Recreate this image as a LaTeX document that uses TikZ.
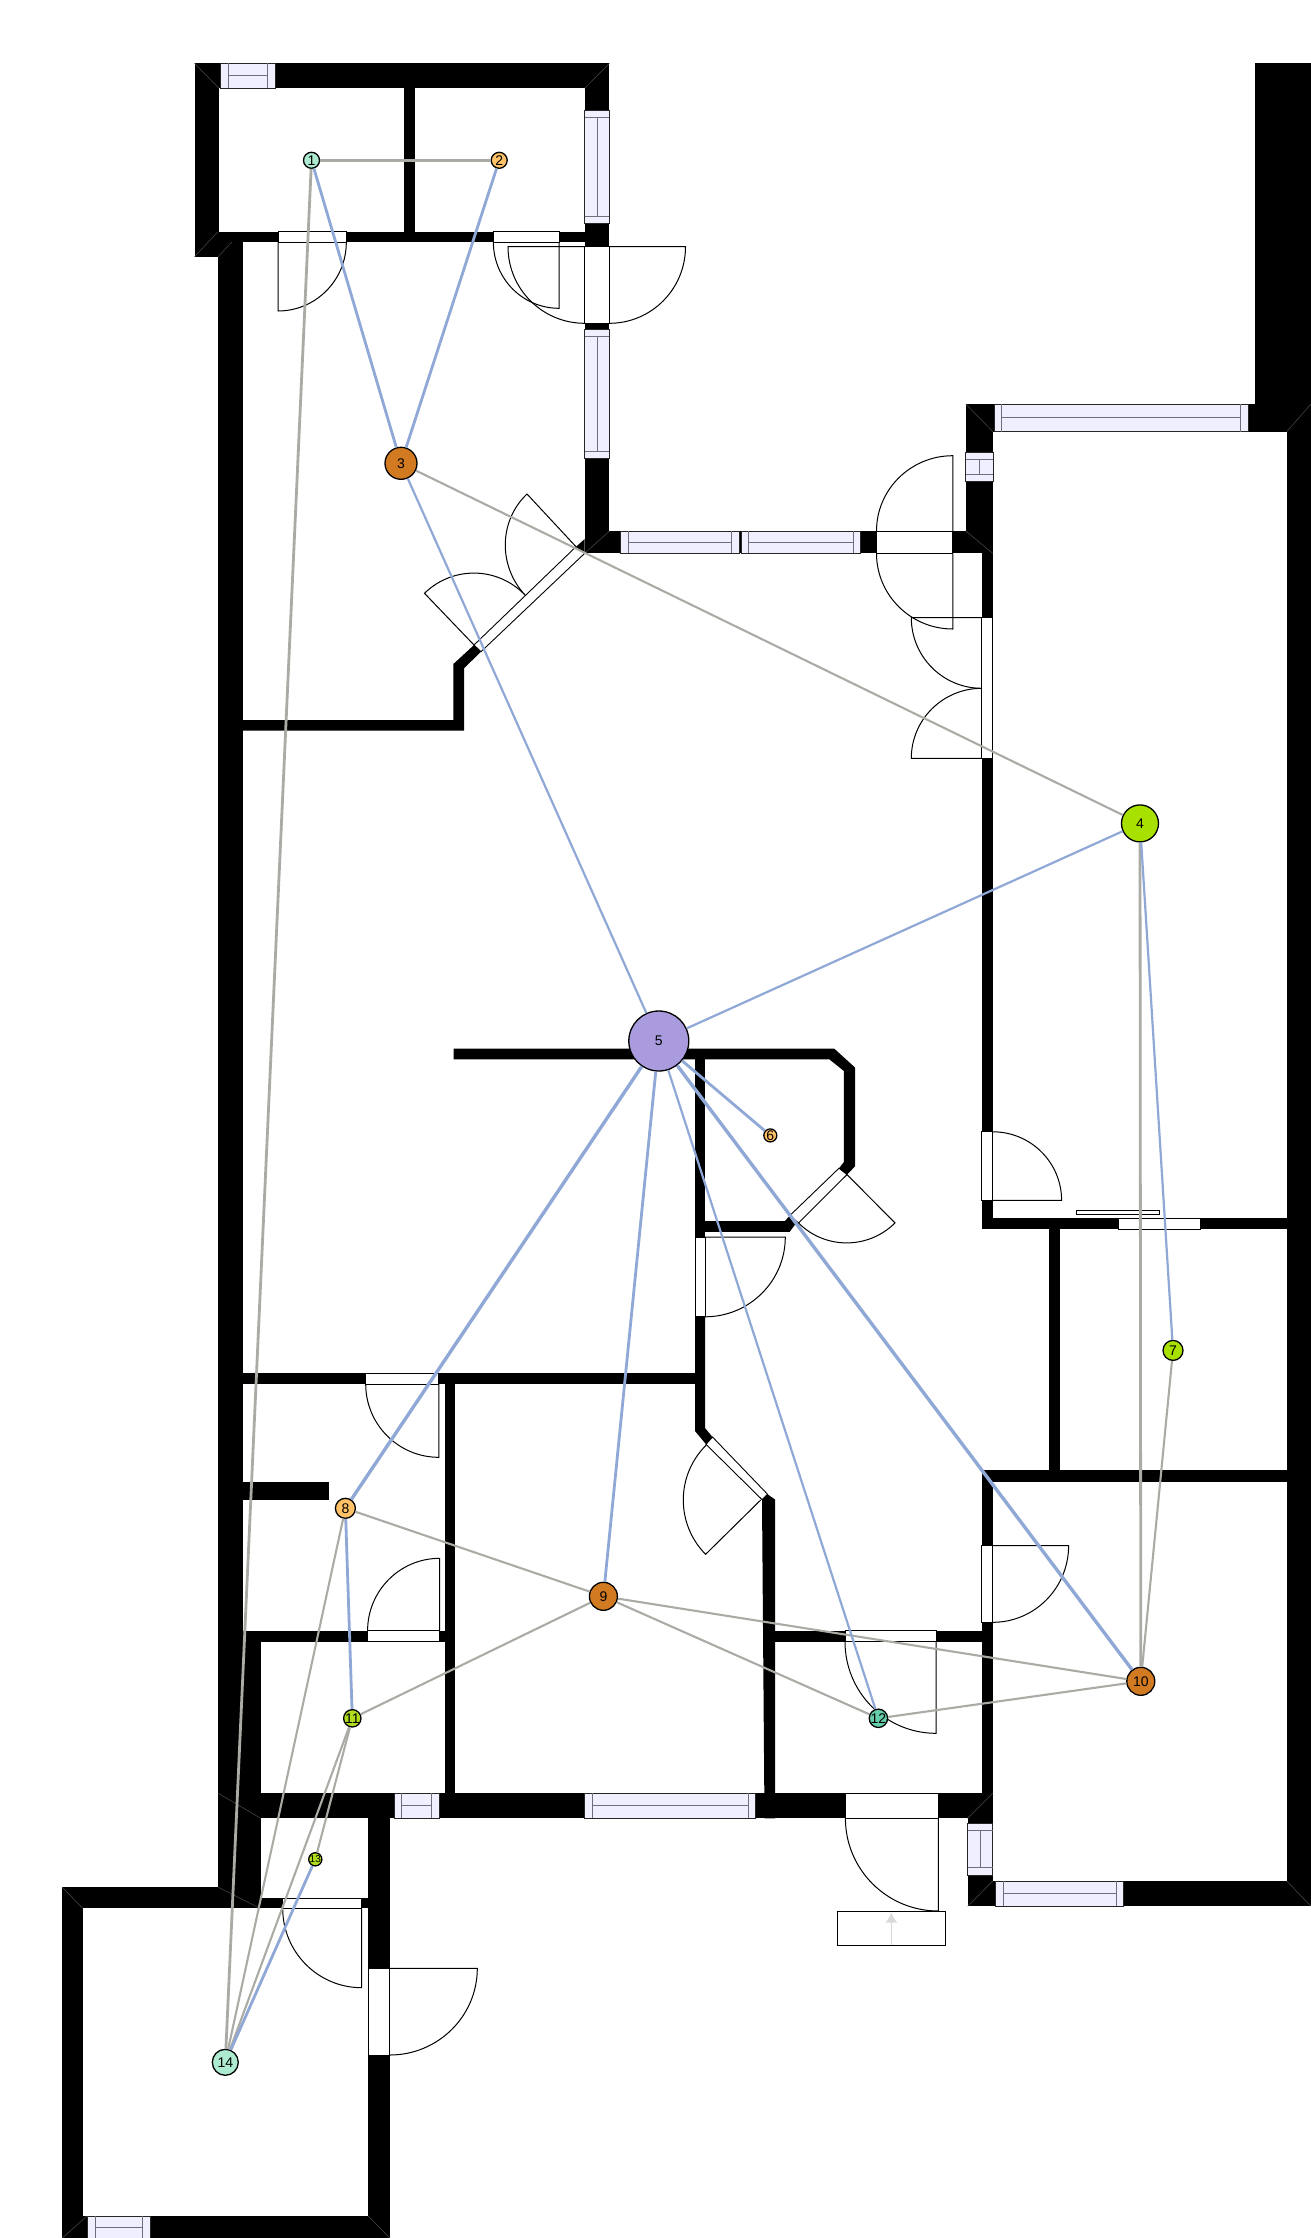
\documentclass[tikz,border=0pt]{standalone}
\usepackage{fontspec}
\setmainfont{Liberation Sans}
\usetikzlibrary{calc,arrows.meta}

\definecolor{winfill}{HTML}{EFEFFD}
\definecolor{winline}{HTML}{6E6E80}
\definecolor{edgegray}{HTML}{ABABA6}
\definecolor{edgeblue}{HTML}{8FA8D6}
\definecolor{mint}{HTML}{ADEBD0}
\definecolor{teal}{HTML}{66CDAA}
\definecolor{apricot}{HTML}{FFC266}
\definecolor{ochre}{HTML}{D17A22}
\definecolor{lime}{HTML}{A8E000}
\definecolor{olive}{HTML}{B0DC1E}
\definecolor{lilac}{HTML}{A99BDD}

\tikzset{
  wall/.style={fill=black},
  miter/.style={draw=black!70, line width=0.5},
  gap/.style={fill=white, draw=black, line width=0.9},
  window/.style={fill=winfill, draw=black!85, line width=0.9},
  sash/.style={draw=winline, line width=1},
  door/.style={draw=black, line width=1},
  sensor/.style={circle, draw=black, line width=1.3, inner sep=0pt,
    font=\fontsize{14}{14}\selectfont},
  link/.style={draw=edgegray, line width=2.1},
  bond/.style={draw=edgeblue, line width=2.2},
}

% window in a horizontal wall: x1, x2, y1, y2
\newcommand{\winh}[4]{
  \draw[window] (#1,#3) rectangle (#2,#4);
  \draw[sash] ({#1+7.5},#3) -- ({#1+7.5},#4);
  \draw[sash] ({#2-7.5},#3) -- ({#2-7.5},#4);
  \draw[sash] ({#1+7.5},{(#3+#4)/2}) -- ({#2-7.5},{(#3+#4)/2});
}
% window in a vertical wall: x1, x2, y1, y2
\newcommand{\winv}[4]{
  \draw[window] (#1,#3) rectangle (#2,#4);
  \draw[sash] (#1,{#3+7.2}) -- (#2,{#3+7.2});
  \draw[sash] (#1,{#4-7.2}) -- (#2,{#4-7.2});
  \draw[sash] ({(#1+#2)/2},{#3+7.2}) -- ({(#1+#2)/2},{#4-7.2});
}
% door leaf and swing: hinge, leaf tip, end of the swing
\newcommand{\swing}[3]{
  \draw[door] (#1) -- (#2)
    .. controls ($(#2)+0.552*(#3)-0.552*(#1)$) and ($(#3)+0.552*(#2)-0.552*(#1)$) .. (#3);
}

\begin{document}
\begin{tikzpicture}[x=1pt, y=-1pt]

  \useasboundingbox (0,0) rectangle (1311,2238);

  % Straight walls
  \foreach \xa/\ya/\xb/\yb in {
    194.5/63.3/609.4/88.3, 194.5/63.3/219/256.7, 219/231.7/584.6/242.3,
    404/63.3/415/242.3, 584.6/63.3/609.4/553.3, 584.6/531/992.7/553.3,
    965.7/404/992.7/553.3, 965.7/404/1311/431.7, 1286.7/404/1311/1906.3,
    1254.7/63/1311/404, 981.6/553/992.7/1229, 981.6/1470.4/992.7/1906,
    981.5/1218.2/1287/1229, 981.5/1470.4/1287/1481.8, 1048.8/1218/1059.8/1481.8,
    218.4/231.7/243.2/1818.3, 243/1373.3/705/1384, 243/1630.7/455/1641.7,
    444.5/1373.3/455.3/1818.3, 243/1482.3/328.6/1500.3, 218.4/1641.7/260.5/1818.3,
    218.4/1793.3/992.7/1818.3, 764.5/1630.7/992.7/1641.7, 967.7/1806/992.7/1906.3,
    967.7/1881/1311/1906.3, 62.3/1887.3/260.7/1908.3, 218.4/1793/260.7/1908.3,
    260.7/1898.3/368.3/1908.3, 62.3/1887.3/82.7/2238, 62.3/2216/389.7/2238,
    368.3/1818/389.7/2238, 695/1059/705/1237}
    \fill[wall] (\xa,\ya) rectangle (\xb,\yb);

  % Walls with slanted ends
  \fill[wall] (576,546.7) -- (584.7,539) -- (584.7,553.3) -- cycle;
  \fill[wall] (243,720) -- (453.4,720) -- (453.4,664) -- (474,645) -- (481,651.7)
    -- (464,668.3) -- (464,730.7) -- (243,730.7) -- cycle;
  \fill[wall] (453.6,1048.6) -- (834.2,1048.6) -- (855,1067.5) -- (855,1166.4)
    -- (847,1174.6) -- (839,1168.2) -- (843.9,1162) -- (843.9,1071)
    -- (829.3,1059.3) -- (453.6,1059.3) -- cycle;
  \fill[wall] (695,1221) -- (785,1221) -- (789.7,1215.7) -- (796.3,1222.9)
    -- (789.7,1231.8) -- (695,1231.8) -- cycle;
  \fill[wall] (695,1316.8) -- (705,1316.8) -- (705,1428) -- (712.5,1437)
    -- (706,1444.3) -- (695,1431) -- cycle;
  \fill[wall] (762,1499.6) -- (767.6,1494.3) -- (775.2,1499.6) -- (775.2,1818.3)
    -- (764.5,1818.3) -- cycle;

  % Corner mitres
  \foreach \xa/\ya/\xb/\yb in {
    194.5/63.3/219/88.3, 609.4/63.3/584.6/88.3, 194.5/256.7/218/231.7,
    218/256.7/231.7/242.3, 584.7/553.3/609.6/531, 965.7/404/993/431.7,
    965.7/531/992.7/553.3, 1311/404/1286.7/431.7, 992.7/1793.3/967.7/1818.3,
    967.7/1906.3/992.7/1881, 1311/1906.3/1286.7/1881, 218.3/1793.3/260.7/1818.3,
    218.3/1887.3/260/1908.3, 62.3/1887.3/82.7/1908.3, 62.3/2238/87/2216,
    389.7/2238/368.3/2216}
    \draw[miter] (\xa,\ya) -- (\xb,\yb);

  % Door openings
  \foreach \xa/\ya/\xb/\yb in {
    278/231.7/346.3/242.3, 493.4/231.7/559/242.3, 584.6/246.7/609.4/323.3,
    876.5/531/952.8/553.3, 981.7/617.7/992.7/758.3, 981.5/1131.8/992.8/1200.4,
    1118/1218.2/1200.4/1229, 695/1237/705/1316.8, 365.7/1373.3/438/1384,
    367.6/1630.7/439.6/1641.7, 845/1630.7/936/1641.7, 981.6/1545.7/992.7/1622.3,
    845.4/1793.3/938.3/1818.3, 282.7/1898.3/361/1908.3, 368.3/1968.3/389.7/2055}
    \draw[gap] (\xa,\ya) rectangle (\xb,\yb);
  \draw[gap] (576,546.7) -- (584.7,553.3) -- (481,651.7) -- (474,645) -- cycle;
  \draw[gap] (839,1168.2) -- (847,1174.6) -- (798.5,1222.9) -- (789.7,1215.7) -- cycle;
  \draw[gap] (712.5,1437) -- (706,1444.3) -- (762,1499.6) -- (767.6,1494.3) -- cycle;
  \draw[gap] (1076.6,1210) rectangle (1159.5,1214.6);

  % Windows
  \winh{220.6}{275.4}{63.3}{88.3}
  \winv{584.6}{609.4}{110.7}{223.3}
  \winv{584.6}{609.4}{329.3}{458.3}
  \winh{620.6}{739}{531}{553.3}
  \winh{741}{860.6}{531}{553.3}
  \winh{994.3}{1248.3}{404}{431.7}
  \winv{965.7}{993}{452.3}{481.7}
  \winh{394.4}{439.2}{1793.3}{1818.3}
  \winh{584.6}{755.7}{1793.3}{1818.3}
  \winv{967.7}{992.7}{1823.3}{1875}
  \winh{995.9}{1123.5}{1881}{1906.3}
  \winh{87.7}{150}{2216}{2238}

  % Door leaves
  \swing{278,242.3}{278,311}{346.3,242.3}
  \swing{559,242.3}{559,308.3}{493.4,242.3}
  \swing{584.6,246.7}{508,246.7}{584.6,323.3}
  \swing{609.4,246.7}{685.5,246.7}{609.4,323.3}
  \swing{576,546.7}{527,494}{525,595}
  \swing{474,645}{424.5,593.3}{525,595}
  \swing{952.8,531}{952.8,455.7}{876.5,531}
  \swing{952.8,553.3}{952.8,629}{876.5,553.3}
  \swing{981.7,617.7}{911.3,617.7}{981.7,688.3}
  \swing{981.7,758.3}{911.3,758.3}{981.7,688.3}
  \swing{992.8,1200.4}{1061.6,1200.4}{992.8,1131.8}
  \swing{847,1174.6}{895,1222.9}{798.5,1222.9}
  \swing{705,1237}{785.3,1237}{705,1316.8}
  \swing{760.7,1500}{705.6,1554.3}{706.3,1445}
  \swing{438.8,1384}{438.8,1457.3}{365.7,1384}
  \swing{439.6,1630.7}{439.6,1558.3}{367.6,1630.7}
  \swing{936,1641.7}{936,1733.3}{845,1641.7}
  \swing{992.7,1545.7}{1068.6,1545.7}{992.7,1622.3}
  \swing{938.3,1818.3}{938.3,1911}{845.4,1818.3}
  \swing{361.7,1908.3}{361.7,1987.7}{282.7,1908.3}
  \swing{389.7,1968.3}{477.3,1968.3}{389.7,2055}

  % Entrance mat
  \draw[line width=1] (837.3,1911) rectangle (945.6,1945);
  \coordinate (matfoot) at (891.3,1945);
  \coordinate (mathead) at (891.3,1912.7);
  \draw[-{Latex[length=10pt,width=12pt]}, draw=black!15, fill=black!15, line width=1]
    (matfoot) -- (mathead);

  % Nodes
  \node[sensor, fill=mint,    minimum size=16] (n1)  at (311.5,160.3)  {1};
  \node[sensor, fill=apricot, minimum size=16] (n2)  at (499.2,160.3)  {2};
  \node[sensor, fill=ochre,   minimum size=32] (n3)  at (401,463.3)    {3};
  \node[sensor, fill=lime,    minimum size=37] (n4)  at (1140,823.4)   {4};
  \node[sensor, fill=lilac,   minimum size=60] (n5)  at (658.8,1041)   {5};
  \node[sensor, fill=apricot, minimum size=13] (n6)  at (770.3,1135.4) {6};
  \node[sensor, fill=lime,    minimum size=20] (n7)  at (1173,1350.4)  {7};
  \node[sensor, fill=apricot, minimum size=20] (n8)  at (345.4,1508.3) {8};
  \node[sensor, fill=ochre,   minimum size=28] (n9)  at (603.4,1596.3) {9};
  \node[sensor, fill=ochre,   minimum size=28] (n10) at (1140.8,1681.3) {10};
  \node[sensor, fill=olive,   minimum size=16] (n11) at (352.3,1718.3) {11};
  \node[sensor, fill=teal,    minimum size=16] (n12) at (878.4,1718.3) {12};
  \node[sensor, fill=olive,   minimum size=13, font=\fontsize{10}{10}\selectfont]
    (n13) at (315.3,1859.3) {13};
  \node[sensor, fill=mint,    minimum size=26] (n14) at (225.3,2062.3) {14};

  % Gray links
  \foreach \a/\b in {n3/n4, n7/n10, n8/n9, n9/n11, n9/n12, n9/n10, n10/n12,
    n8/n14, n11/n14, n11/n13}
    \draw[link] (\a) -- (\b);
  \foreach \a/\b in {n1/n2, n1/n14, n4/n10}
    \draw[link, line width=2.8] (\a) -- (\b);

  % Blue links
  \foreach \a/\b in {n3/n5, n4/n5, n4/n7, n5/n12}
    \draw[bond] (\a) -- (\b);
  \foreach \a/\b in {n1/n3, n2/n3, n5/n6, n5/n9, n8/n11, n13/n14}
    \draw[bond, line width=2.8] (\a) -- (\b);
  \draw[bond, line width=3.4] (n5) -- (n8);
  \draw[bond, line width=3.4] (n5) -- (n10);

\end{tikzpicture}
\end{document}
